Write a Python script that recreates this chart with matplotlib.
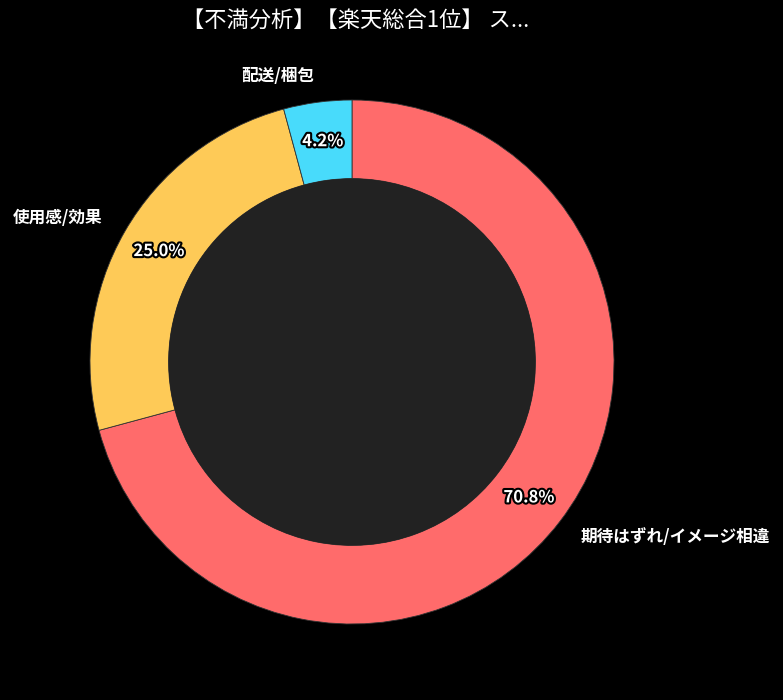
import matplotlib
matplotlib.use("Agg")
import matplotlib.pyplot as plt
import matplotlib.patheffects as pe

plt.rcParams["font.family"] = ["Noto Sans CJK JP", "DejaVu Sans"]

# complaint categories and their share
categories = ["期待はずれ/イメージ相違", "使用感/効果", "配送/梱包"]
shares = [70.8, 25.0, 4.2]
colors = ["#ff6b6b", "#feca57", "#48dbfb"]
title = "【不満分析】【楽天総合1位】 ス..."

fig = plt.figure(figsize=(7.83, 7.00), dpi=100, facecolor="black")
ax = fig.add_axes([24.5 / 783, 10.5 / 700, 655 / 783, 655 / 700])
ax.set_facecolor("black")

wedges, texts, autotexts = ax.pie(
    shares,
    labels=categories,
    colors=colors,
    startangle=90,
    counterclock=False,
    autopct="%1.1f%%",
    pctdistance=0.85,
    labeldistance=1.1,
    wedgeprops={"width": 0.3, "edgecolor": "#333333", "linewidth": 0.6},
)

for t in texts:
    t.set_color("white")
    t.set_fontsize(12)
    t.set_fontweight("bold")

for t in autotexts:
    t.set_color("white")
    t.set_fontsize(12)
    t.set_fontweight("bold")
    t.set_path_effects([pe.withStroke(linewidth=3, foreground="black")])

hole = plt.Circle((0, 0), 0.7, facecolor="#222222", edgecolor="none")
ax.add_patch(hole)

ax.set_xlim(-1.25, 1.25)
ax.set_ylim(-1.25, 1.25)
ax.set_aspect("equal")
ax.axis("off")

fig.text(355.5 / 783, 1 - 20 / 700, title, color="white", fontsize=16,
         ha="center", va="center")

fig.savefig("out.png", facecolor="black")
plt.close(fig)
